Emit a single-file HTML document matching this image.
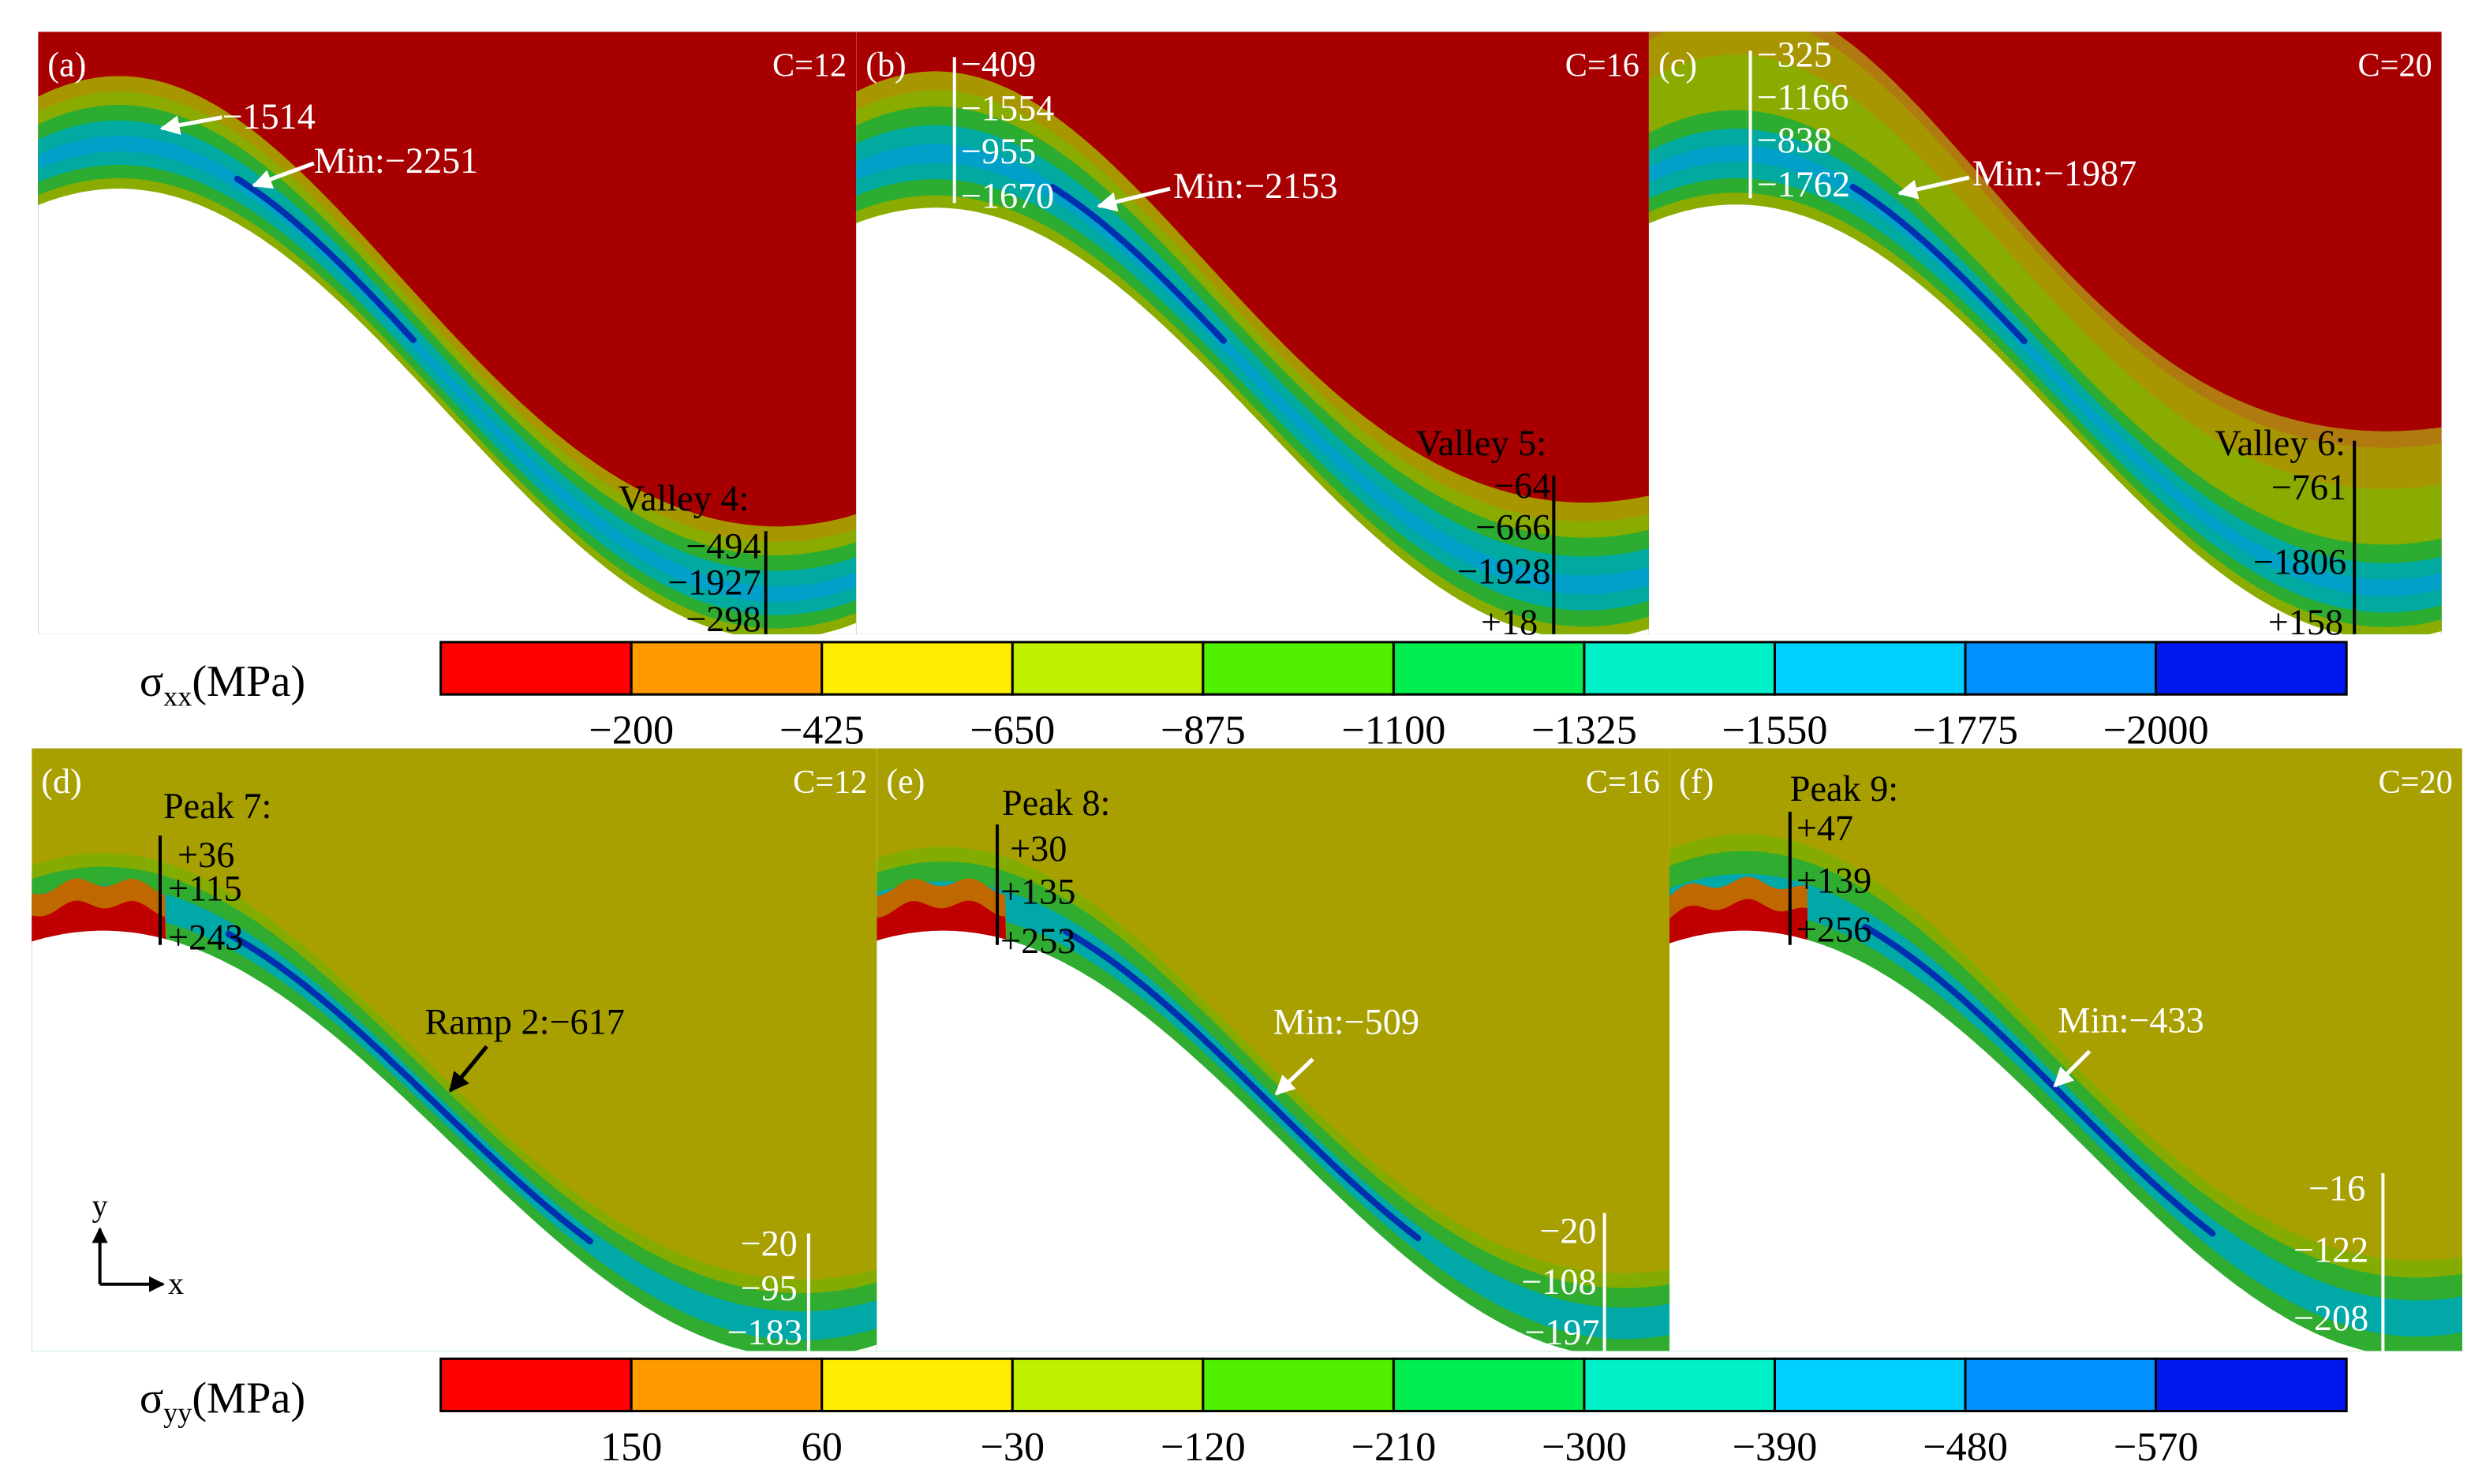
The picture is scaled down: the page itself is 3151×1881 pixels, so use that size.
<!DOCTYPE html>
<html><head><meta charset="utf-8"><style>
html,body{margin:0;padding:0;background:#fff;}
svg{display:block;}
svg text{font-family:"Liberation Serif","DejaVu Serif",serif;}
</style></head><body>
<svg id="fig" width="3151" height="1881" viewBox="0 0 1568 936" preserveAspectRatio="none" xmlns="http://www.w3.org/2000/svg" font-family="Liberation Serif, DejaVu Serif, serif">
<defs>
<marker id="aw" viewBox="0 0 10 10" refX="9" refY="5" markerWidth="5" markerHeight="5" orient="auto"><path d="M0,0L10,5L0,10z" fill="#fff"/></marker>
<marker id="ab" viewBox="0 0 10 10" refX="9" refY="5" markerWidth="5" markerHeight="5" orient="auto"><path d="M0,0L10,5L0,10z" fill="#000"/></marker>
</defs>
<g id="panels"></g>
<g id="bars"></g>
<g id="labels"></g>
</svg>
<script>
const NS="http://www.w3.org/2000/svg";
const cbColors=["#ff0000","#ff9a00","#ffee00","#c0f000","#50f000","#00ee50","#00f0c8","#00d0ff","#0090ff","#0018f0"];
const topTicks=["−200","−425","−650","−875","−1100","−1325","−1550","−1775","−2000"];
const botTicks=["150","60","−30","−120","−210","−300","−390","−480","−570"];
const topLayers=[[1.0,"#a89600"],[0.86,"#8aac00"],[0.74,"#2cac30"],[0.6,"#00aaa0"],[0.46,"#00a0c8"],[0.32,"#00aaa0"],[0.2,"#2cac30"],[0.08,"#8aac00"]];
const cLayers=[[1.0,"#b07a10"],[0.92,"#a89600"],[0.72,"#8aac00"],[0.45,"#2cac30"],[0.36,"#00aaa0"],[0.28,"#00a0c8"],[0.2,"#00aaa0"],[0.12,"#2cac30"],[0.05,"#8aac00"]];
const botLayers=[[1.0,"#84ac00"],[0.82,"#30ac30"],[0.58,"#00a8a8"],[0.2,"#30ac30"]];
const panels=[
 {id:"a",x0:24,y0:20,x1:540,y1:400,px:75,py:118,vx:490,vy:402,t:70,bg:"#a80000",L:topLayers,c:"C=12"},
 {id:"b",x0:540,y0:20,x1:1040,y1:400,px:590,py:130,vx:1000,vy:402,t:85,bg:"#a80000",L:topLayers,c:"C=16"},
 {id:"c",x0:1040,y0:20,x1:1540,y1:400,px:1095,py:128,vx:1505,vy:402,t:130,bg:"#a80000",L:cLayers,c:"C=20"},
 {id:"d",x0:20,y0:472,x1:553,y1:852,px:65,py:586,vx:505,vy:855,t:48,bg:"#a8a000",L:botLayers,c:"C=12"},
 {id:"e",x0:553,y0:472,x1:1053,y1:852,px:595,py:586,vx:1025,vy:855,t:52,bg:"#a8a000",L:botLayers,c:"C=16"},
 {id:"f",x0:1053,y0:472,x1:1553,y1:852,px:1100,py:586,vx:1525,vy:855,t:60,bg:"#a8a000",L:botLayers,c:"C=20"}
];
function mk(tag,attrs,parent){const e=document.createElementNS(NS,tag);for(const k in attrs)e.setAttribute(k,attrs[k]);parent.appendChild(e);return e;}
function curve(p,x){return p.py+(p.vy-p.py)*(1-Math.cos(Math.PI*(x-p.px)/(p.vx-p.px)))/2;}
function thick(p,x){const c=Math.cos(Math.PI*(x-p.px)/(p.vx-p.px));return 0.75+0.25*c*c;}
function area(p,off){let d="M"+p.x0+","+(p.y1+5);for(let x=p.x0;x<=p.x1;x+=2){d+="L"+x+","+(curve(p,x)-off*thick(p,x)).toFixed(1);}d+="L"+p.x1+","+(curve(p,p.x1)-off*thick(p,p.x1)).toFixed(1)+"L"+p.x1+","+(p.y1+5)+"Z";return d;}
const G=document.getElementById("panels");
panels.forEach(p=>{
 const cp=mk("clipPath",{id:"cp"+p.id},document.querySelector("defs"));
 mk("rect",{x:p.x0,y:p.y0,width:p.x1-p.x0,height:p.y1-p.y0},cp);
 const g=mk("g",{"clip-path":"url(#cp"+p.id+")"},G);
 
 
 mk("rect",{x:p.x0,y:p.y0,width:p.x1-p.x0,height:p.y1-p.y0,fill:p.bg},g);
 p.L.forEach(l=>{const e=mk("path",{d:area(p,l[0]*p.t),fill:l[1]},g);
  
  });
 if(p.y0>400){
  const blob=[["#c06800",30],["#c00000",16]];
  blob.forEach(b=>{let d="M"+p.x0+","+(p.py+10);for(let x=p.x0;x<=p.px+40;x+=3){d+="L"+x+","+(curve(p,x)-b[1]-3*Math.sin(x/6)).toFixed(1);}d+="L"+(p.px+40)+","+(p.py+20)+"Z";mk("path",{d:d,fill:b[0]},g);});
 }
 let d="";const xa=p.px+(p.vx-p.px)*0.18,xb=p.px+(p.vx-p.px)*(p.y0>400?0.7:0.45);
 const cf=p.id=="c"?0.26:(p.y0>400?0.4:0.42);
 for(let x=xa;x<=xb;x+=3){d+=(d?"L":"M")+x.toFixed(1)+","+(curve(p,x)-p.t*cf*thick(p,x)).toFixed(1);}
 mk("path",{d:d,stroke:"#0030b0",fill:"none","stroke-width":4,"stroke-linecap":"round"},g);
 const w=mk("path",{d:area(p,-1),fill:"#fff"},g);
 
 
 const lab=mk("text",{x:p.x0+6,y:p.y0+28,fill:"#fff","font-size":22},G);lab.textContent="("+p.id+")";
 
 
 const ct=mk("text",{x:p.x1-6,y:p.y0+28,fill:"#fff","font-size":21,"text-anchor":"end"},G);ct.textContent=p.c;
 
 
});
const B=document.getElementById("bars");
function colorbar(y,ticks,name,sub){
 const x0=278,w=120.2;
 cbColors.forEach((c,i)=>{const r=mk("rect",{x:x0+i*w,y:y,width:w,height:33,fill:c,stroke:"#000","stroke-width":1.5},B);
  
  });
 ticks.forEach((t,i)=>{const e=mk("text",{x:x0+(i+1)*w,y:y+64,"font-size":26,"text-anchor":"middle",fill:"#000"},B);e.textContent=t;
  
  });
 const tl=mk("text",{x:88,y:y+34,"font-size":28,fill:"#000"},B);
 tl.innerHTML='σ<tspan font-size="18" dy="6">'+sub+'</tspan><tspan dy="-6">(MPa)</tspan>';
 
 
}
colorbar(405,topTicks,"sxx-colorbar","xx");
colorbar(857,botTicks,"syy-colorbar","yy");
const Lg=document.getElementById("labels");
function T(x,y,s,c,sz,anchor){const e=mk("text",{x:x,y:y,fill:c,"font-size":sz||23,"text-anchor":anchor||"start"},Lg);e.textContent=s;
 
 return e;}
function A(x1,y1,x2,y2,c){mk("line",{x1:x1,y1:y1,x2:x2,y2:y2,stroke:c,"stroke-width":2.5,"marker-end":c=="#fff"?"url(#aw)":"url(#ab)"},Lg);}
function V(x,y1,y2,c){mk("line",{x1:x,y1:y1,x2:x,y2:y2,stroke:c,"stroke-width":2},Lg);}
T(140,81,"−1514","#fff");A(140,74,102,81,"#fff");
T(198,109,"Min:−2251","#fff");A(198,103,160,117,"#fff");
T(390,322,"Valley 4:","#000");V(483,335,400,"#000");
T(480,352,"−494","#000",23,"end");T(480,375,"−1927","#000",23,"end");T(480,398,"−298","#000",23,"end");
V(602,36,128,"#fff");T(606,48,"−409","#fff");T(606,76,"−1554","#fff");T(606,103,"−955","#fff");T(606,131,"−1670","#fff");
T(740,125,"Min:−2153","#fff");A(738,119,693,130,"#fff");
T(893,287,"Valley 5:","#000");V(980,300,400,"#000");
T(978,314,"−64","#000",23,"end");T(978,340,"−666","#000",23,"end");T(978,368,"−1928","#000",23,"end");T(970,400,"+18","#000",23,"end");
V(1104,32,125,"#fff");T(1108,42,"−325","#fff");T(1108,69,"−1166","#fff");T(1108,96,"−838","#fff");T(1108,124,"−1762","#fff");
T(1244,117,"Min:−1987","#fff");A(1242,112,1198,122,"#fff");
T(1397,287,"Valley 6:","#000");V(1485,278,400,"#000");
T(1480,315,"−761","#000",23,"end");T(1480,362,"−1806","#000",23,"end");T(1478,400,"+158","#000",23,"end");
T(103,516,"Peak 7:","#000");V(101,527,596,"#000");
T(112,547,"+36","#000");T(106,568,"+115","#000");T(106,599,"+243","#000");
T(268,652,"Ramp 2:−617","#000");A(307,660,284,688,"#000");
V(510,778,852,"#fff");T(503,792,"−20","#fff",23,"end");T(503,820,"−95","#fff",23,"end");T(506,848,"−183","#fff",23,"end");
mk("line",{x1:63,y1:810,x2:63,y2:775,stroke:"#000","stroke-width":2,"marker-end":"url(#ab)"},Lg);
mk("line",{x1:63,y1:810,x2:103,y2:810,stroke:"#000","stroke-width":2,"marker-end":"url(#ab)"},Lg);
T(58,767,"y","#000",20);T(106,816,"x","#000",20);
T(632,514,"Peak 8:","#000");V(629,520,596,"#000");
T(637,543,"+30","#000");T(631,570,"+135","#000");T(631,601,"+253","#000");
T(803,652,"Min:−509","#fff");A(828,668,805,690,"#fff");
V(1012,765,852,"#fff");T(1007,784,"−20","#fff",23,"end");T(1007,816,"−108","#fff",23,"end");T(1009,848,"−197","#fff",23,"end");
T(1129,505,"Peak 9:","#000");V(1129,512,596,"#000");
T(1133,530,"+47","#000");T(1133,563,"+139","#000");T(1133,594,"+256","#000");
T(1298,651,"Min:−433","#fff");A(1318,663,1296,685,"#fff");
V(1503,740,852,"#fff");T(1492,757,"−16","#fff",23,"end");T(1494,796,"−122","#fff",23,"end");T(1494,839,"−208","#fff",23,"end");
</script>
</body></html>
